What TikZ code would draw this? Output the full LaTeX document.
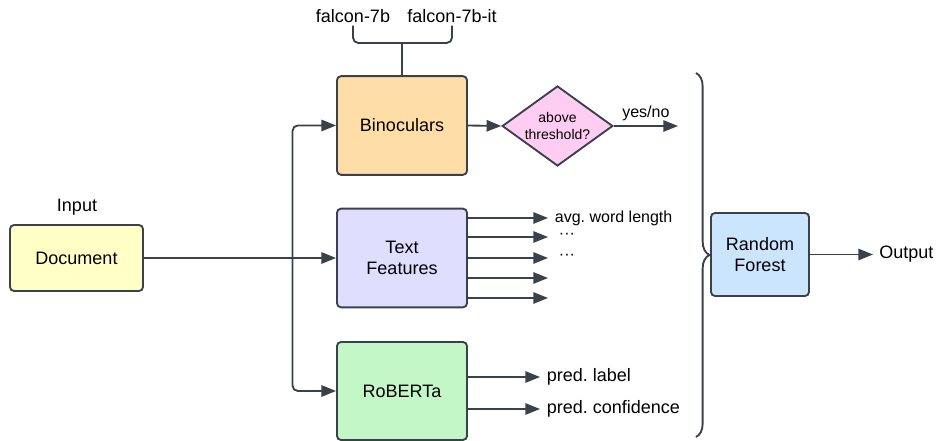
\documentclass[tikz,border=0pt]{standalone}
\usepackage{fontspec}
\setmainfont{Liberation Sans}
\usetikzlibrary{arrows.meta,shapes.geometric,decorations.pathreplacing}
\definecolor{linegray}{HTML}{3A414A}
\definecolor{docyellow}{HTML}{FFFFC6}
\definecolor{binoorange}{HTML}{FFDDA6}
\definecolor{featpurple}{HTML}{DEDEFF}
\definecolor{robgreen}{HTML}{C3F7C8}
\definecolor{rfblue}{HTML}{CCE5FF}
\definecolor{thrpink}{HTML}{FFCCF2}
\frenchspacing
\begin{document}
\begin{tikzpicture}[x=0.75pt,y=-0.75pt,
	box/.style={draw=linegray,line width=1.4pt,rounded corners=3pt,align=center,minimum width=97.5pt,minimum height=74pt,font=\fontsize{13.5}{16}\selectfont},
	lbl/.style={font=\fontsize{13.5}{16}\selectfont,inner sep=0pt},
	small/.style={font=\fontsize{12}{14}\selectfont,inner sep=0pt},
	conn/.style={draw=linegray,line width=1.4pt},
	arr/.style={conn,-{Triangle[length=11pt,width=8.5pt]}}]
			\useasboundingbox (0,0) rectangle (936,441);
			\node[box,fill=docyellow,minimum width=99.75pt,minimum height=49.5pt](doc) at (76.5,258){Document};
			\node[lbl](in) at (77,207){Input};
			\node[box,fill=binoorange](bino) at (402,125.5){Binoculars};
			\node[box,fill=featpurple](feat) at (402,258){Text\\Features};
			\node[box,fill=robgreen,minimum height=73.5pt](rob) at (402,391){RoBERTa};
			\node[diamond,draw=linegray,line width=1.4pt,fill=thrpink,aspect=1.39,inner sep=0pt,minimum width=83pt,minimum height=60pt,align=center,font=\fontsize{10.5}{13}\selectfont](thr) at (557.5,126){above\\threshold?};
			\node[box,fill=rfblue,minimum width=73.5pt,minimum height=62.25pt](rf) at (760,254.5){Random\\Forest};
			\node[lbl,anchor=west](out) at (879,254.5){Output};
			\node[lbl](f7b) at (353,16){falcon-7b};
			\node[lbl](f7bit) at (452,16){falcon-7b-it};
			\coordinate (brk) at (402,43);
			\coordinate (split) at (292.5,258);
			\coordinate (yn) at (678,126);
			\coordinate (bt) at (696,73);
			\coordinate (bb) at (696,437);
			% models bracket
			\draw[conn,rounded corners=4pt] ([yshift=-2pt]f7b.south) |- (brk) -| ([yshift=-2pt]f7bit.south);
			\draw[conn] (brk) -- (bino.north);
			% input
			\draw[arr] (doc.east) -- (feat.west);
			\draw[arr,rounded corners=4pt] (split) |- (bino.west);
			\draw[arr,rounded corners=4pt] (split) |- (rob.west);
			% binoculars
			\draw[arr] (bino.east) -- (thr.west);
			\draw[arr] (thr.east) -- (yn) node[midway,above=3pt,small]{yes/no};
			% text features
			\foreach \yy [count=\i] in {218,237,258,278,298}
				\draw[arr] (feat.east |- 0,\yy) -- (548,\yy) coordinate (f\i);
			\node[small,anchor=west](avg) at ([xshift=5pt]f1){avg. word length};
			\node[small,anchor=west](dots1) at ([xshift=8pt,yshift=0.5pt]f2){···};
			\node[small,anchor=west](dots2) at ([xshift=8pt,yshift=0.5pt]f3){···};
			% roberta
			\draw[arr] (rob.east |- 0,377) -- (540,377) coordinate (r1);
			\draw[arr] (rob.east |- 0,409) -- (540,409) coordinate (r2);
			\node[lbl,anchor=west](plabel) at ([xshift=5pt]r1){pred. label};
			\node[lbl,anchor=west](pconf) at ([xshift=5pt]r2){pred. confidence};
			% random forest
			\draw[conn,decorate,decoration={brace,amplitude=10pt}] (bt) -- (bb);
			\draw[arr] (rf.east) -- ([xshift=-4.5pt]out.west);
		\end{tikzpicture}
\end{document}
